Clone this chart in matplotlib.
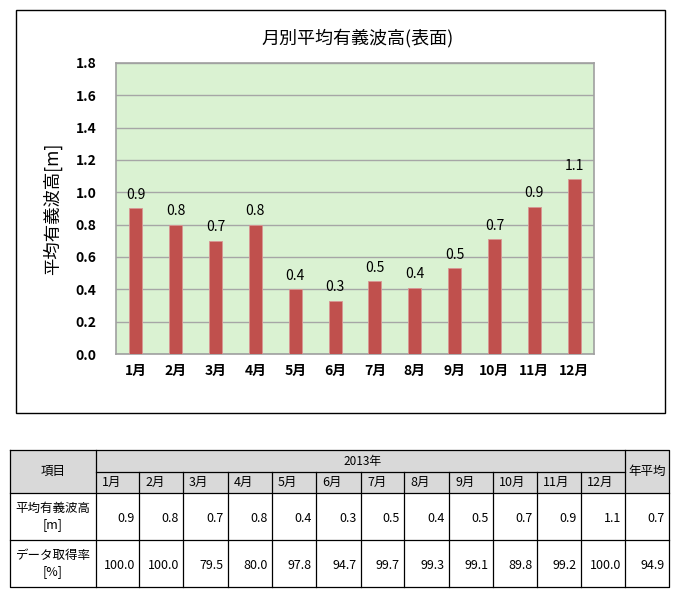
import matplotlib.pyplot as plt
from matplotlib.patches import Rectangle

plt.rcParams['font.family'] = ['Noto Sans CJK JP', 'DejaVu Sans']

months = ['1月', '2月', '3月', '4月', '5月', '6月', '7月', '8月', '9月', '10月', '11月', '12月']
wave = [0.90, 0.80, 0.70, 0.80, 0.40, 0.33, 0.45, 0.41, 0.53, 0.71, 0.91, 1.08]
wave_lbl = ['0.9', '0.8', '0.7', '0.8', '0.4', '0.3', '0.5', '0.4', '0.5', '0.7', '0.9', '1.1']
rate_lbl = ['100.0', '100.0', '79.5', '80.0', '97.8', '94.7', '99.7', '99.3', '99.1', '89.8', '99.2', '100.0']
year = '2013年'
avg_wave = '0.7'
avg_rate = '94.9'

W, H = 680, 599
fig = plt.figure(figsize=(W / 100, H / 100), dpi=100)

# overlay axes in pixel coords for frames and table
bg = fig.add_axes([0, 0, 1, 1])
bg.set_xlim(0, W)
bg.set_ylim(H, 0)
bg.axis('off')
bg.add_patch(Rectangle((16, 10), 649, 403, fill=False, ec='black', lw=1))

# chart
ax = fig.add_axes([116 / W, 1 - 354 / H, (594 - 116) / W, (354 - 63) / H])
ax.set_facecolor('#daf2d2')
x = range(len(months))
bars = ax.bar(x, wave, width=0.33, color='#c0504d', edgecolor='#d99694', lw=0.6, zorder=3)
for xi, v, t in zip(x, wave, wave_lbl):
    ax.text(xi, v + 0.04, t, ha='center', va='bottom', fontsize=10, zorder=4)
ax.set_xlim(-0.5, 11.5)
ax.set_ylim(0, 1.8)
ax.set_yticks([i * 0.2 for i in range(10)])
ax.set_yticklabels([f'{i * 0.2:.1f}' for i in range(10)], fontsize=10, fontweight='bold')
ax.set_xticks(list(x))
ax.set_xticklabels(months, fontsize=10, fontweight='bold')
ax.tick_params(length=0, pad=7)
ax.tick_params(axis='y', pad=14)
ax.grid(axis='y', color='#a6a6a6', lw=1, zorder=1)
for s in ax.spines.values():
    s.set_color('#a0a0a0')
    s.set_linewidth(1.2)
ax.set_ylabel('平均有義波高[m]', fontsize=12.5, labelpad=10)
fig.text(358 / W, 1 - 38 / H, '月別平均有義波高(表面)', ha='center', va='center', fontsize=13)

# table
xs = [10, 96, 139, 183, 228, 272, 316, 361, 404, 449, 493, 537, 581, 625, 669]
ys = [450, 472, 493, 540, 587]
gray = '#d9d9d9'
bg.add_patch(Rectangle((xs[0], ys[0]), xs[-1] - xs[0], ys[2] - ys[0], fc=gray, ec='none'))
lw = 0.9
bg.plot([xs[0], xs[-1], xs[-1], xs[0], xs[0]], [ys[0], ys[0], ys[-1], ys[-1], ys[0]], color='black', lw=lw)
for yy in ys[2:4]:
    bg.plot([xs[0], xs[-1]], [yy, yy], color='black', lw=lw)
bg.plot([xs[1], xs[-2]], [ys[1], ys[1]], color='black', lw=lw)
bg.plot([xs[1], xs[1]], [ys[0], ys[-1]], color='black', lw=lw)
bg.plot([xs[-2], xs[-2]], [ys[0], ys[-1]], color='black', lw=lw)
for xx in xs[2:-2]:
    bg.plot([xx, xx], [ys[1], ys[-1]], color='black', lw=lw)

fs = 9
bg.text((xs[0] + xs[1]) / 2, (ys[0] + ys[2]) / 2, '項目', ha='center', va='center', fontsize=fs)
bg.text(xs[1] + 247, (ys[0] + ys[1]) / 2, year, ha='left', va='center', fontsize=fs - 0.5)
bg.text((xs[-2] + xs[-1]) / 2, (ys[0] + ys[2]) / 2, '年平均', ha='center', va='center', fontsize=fs)
for i, m in enumerate(months):
    bg.text(xs[i + 1] + 6, (ys[1] + ys[2]) / 2, m, ha='left', va='center', fontsize=fs)
    bg.text(xs[i + 2] - 4, (ys[2] + ys[3]) / 2 + 2, wave_lbl[i], ha='right', va='center', fontsize=fs)
    bg.text(xs[i + 2] - 4, (ys[3] + ys[4]) / 2 + 2, rate_lbl[i], ha='right', va='center', fontsize=fs)
bg.text(xs[-1] - 4, (ys[2] + ys[3]) / 2 + 2, avg_wave, ha='right', va='center', fontsize=fs)
bg.text(xs[-1] - 4, (ys[3] + ys[4]) / 2 + 2, avg_rate, ha='right', va='center', fontsize=fs)
bg.text((xs[0] + xs[1]) / 2, (ys[2] + ys[3]) / 2, '平均有義波高\n[m]', ha='center', va='center',
        fontsize=fs, linespacing=1.3)
bg.text((xs[0] + xs[1]) / 2, (ys[3] + ys[4]) / 2, 'データ取得率\n[%]', ha='center', va='center',
        fontsize=fs, linespacing=1.3)

fig.savefig('out.png', dpi=100)
